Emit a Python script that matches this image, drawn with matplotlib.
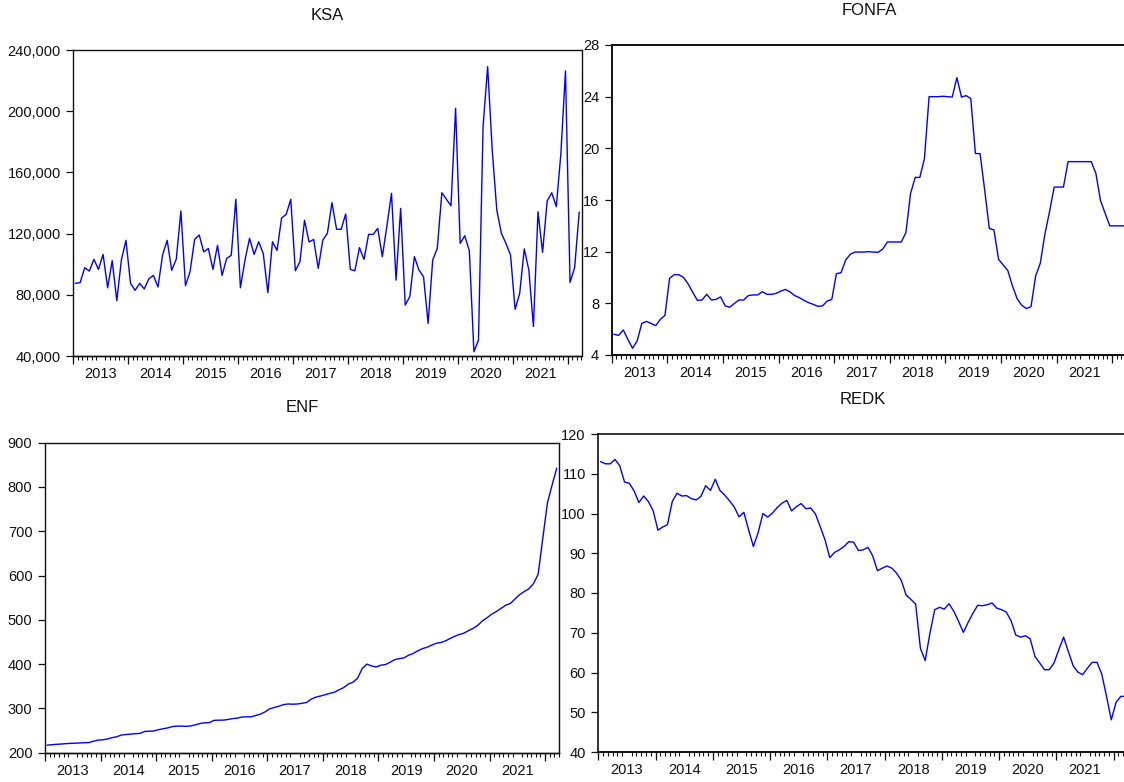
import numpy as np
import matplotlib
matplotlib.use("Agg")
import matplotlib.pyplot as plt
from matplotlib.ticker import FuncFormatter

plt.rcParams['font.family'] = ['Liberation Sans', 'DejaVu Sans']

# Monthly observations, 2013M01 - 2022M03
start_year = 2013
year_labels = [2013, 2014, 2015, 2016, 2017, 2018, 2019, 2020, 2021]

ksa = [87500, 88000, 97700, 95500, 103200, 96600, 106400, 84600, 102300, 76100,
       102700, 115600, 87500, 82900, 87500, 83800, 90500, 92700, 85100, 106000,
       115600, 96000, 103400, 134800, 85900, 95100, 116200, 119100, 108000, 110300,
       96600, 112300, 92700, 103800, 105800, 142400, 84600, 102700, 116900, 106400,
       114700, 106800, 81400, 114700, 109000, 130200, 132600, 142400, 95700, 101600,
       128700, 114500, 116200, 97300, 115800, 120200, 140200, 122800, 122800, 132800,
       96600, 95700, 110800, 103200, 119500, 119500, 123400, 104900, 125000, 146300,
       89600, 136500, 73300, 78800, 104900, 96200, 91800, 61300, 102700, 110300,
       146700, 142400, 138200, 201900, 113600, 118600, 108800, 42800, 50400, 189900,
       229100, 174600, 135400, 120200, 113600, 106000, 70500, 80900, 110000, 96200,
       59300, 134300, 107700, 141300, 146700, 137600, 172500, 226300, 88100, 97700,
       133900]

fonfa = [5.6, 5.52, 5.94, 5.2, 4.52, 5.1, 6.45, 6.6, 6.45, 6.27,
         6.76, 7.07, 9.94, 10.22, 10.22, 10.0, 9.5, 8.85, 8.23, 8.26,
         8.7, 8.26, 8.3, 8.5, 7.8, 7.7, 8.0, 8.26, 8.26, 8.6,
         8.65, 8.65, 8.9, 8.7, 8.7, 8.77, 8.95, 9.08, 8.88, 8.6,
         8.44, 8.23, 8.05, 7.92, 7.77, 7.8, 8.18, 8.3, 10.3, 10.37,
         11.35, 11.8, 11.97, 11.97, 11.97, 12.0, 11.97, 11.95, 12.2, 12.75,
         12.75, 12.75, 12.75, 13.47, 16.5, 17.75, 17.75, 19.2, 24.0, 24.0,
         24.0, 24.03, 24.0, 23.97, 25.47, 23.97, 24.08, 23.85, 19.6, 19.59,
         16.77, 13.8, 13.68, 11.4, 10.97, 10.53, 9.34, 8.36, 7.85, 7.6,
         7.74, 10.12, 11.1, 13.37, 15.1, 17.0, 17.0, 17.0, 18.97, 18.97,
         18.97, 18.97, 18.97, 18.97, 18.06, 15.95, 14.97, 14.0, 14.0, 14.0,
         14.0]

enf = [217, 218, 219, 219.5, 220.5, 221, 221.5, 222, 222.5, 223,
       226, 228.5, 229, 231, 234, 236, 240, 241, 242, 243,
       243.5, 248, 248.5, 249, 252, 254, 256, 259, 260, 260,
       259.5, 260.5, 263, 266, 267.5, 268, 273, 273.5, 273.5, 275,
       277, 278, 280.5, 281, 281, 284, 287, 292, 299, 302,
       305, 308.5, 310, 309.5, 310, 311.5, 313.5, 321, 325.5, 328,
       331, 334, 336.5, 342, 347, 355, 359, 368, 390, 400,
       396, 393.5, 397.5, 399, 404, 410, 412.5, 414, 420, 424,
       430, 435, 438, 443, 447, 449, 452.5, 458, 463, 467,
       470, 476, 481, 488, 498, 505, 513, 519, 526, 533,
       537, 547, 557, 564, 570, 582, 603, 684, 764, 804,
       842]

redk = [113.05, 112.5, 112.5, 113.6, 112.0, 107.9, 107.6, 105.7, 102.75, 104.4,
        103.0, 100.7, 95.8, 96.6, 97.2, 103.0, 105.1, 104.4, 104.5, 103.75,
        103.4, 104.3, 107.0, 105.8, 108.6, 105.8, 104.6, 103.2, 101.6, 99.15,
        100.3, 95.9, 91.7, 95.2, 100.0, 99.1, 100.1, 101.5, 102.6, 103.3,
        100.65, 101.7, 102.5, 101.2, 101.4, 99.9, 96.7, 93.4, 88.9, 90.2,
        90.85, 91.7, 92.9, 92.8, 90.7, 90.85, 91.5, 89.35, 85.6, 86.25,
        86.8, 86.25, 85.0, 83.15, 79.5, 78.4, 77.2, 66.1, 63.0, 69.9,
        75.8, 76.4, 75.95, 77.3, 75.4, 72.85, 70.1, 72.6, 74.9, 76.9,
        76.8, 77.05, 77.5, 76.2, 75.8, 75.2, 73.0, 69.4, 68.9, 69.25,
        68.5, 64.05, 62.4, 60.7, 60.7, 62.4, 65.7, 68.9, 65.3, 61.7,
        60.1, 59.45, 61.1, 62.55, 62.55, 59.6, 54.0, 48.1, 52.5, 54.0,
        54.0]

ksa_ticks = [40000, 80000, 120000, 160000, 200000, 240000]
fonfa_ticks = [4, 8, 12, 16, 20, 24, 28]
enf_ticks = [200, 300, 400, 500, 600, 700, 800, 900]
redk_ticks = [40, 50, 60, 70, 80, 90, 100, 110, 120]

W, H = 1124, 782
fig = plt.figure(figsize=(W / 100, H / 100), dpi=100)
fig.patch.set_facecolor('white')

LINE_BLUE = '#0000ff'
TXT = '#111111'
TICK_FS = 10.5


def add_panel(box, values, title, yticks, fmt, spine_lw):
    left, top, right, bottom = box
    ax = fig.add_axes([left / W, 1 - bottom / H, (right - left) / W, (bottom - top) / H])
    n = len(values)
    x = start_year + (np.arange(n) + 0.5) / 12.0
    ax.plot(x, values, color=LINE_BLUE, lw=1.0)
    ax.set_xlim(start_year, start_year + n / 12.0)
    ax.set_ylim(yticks[0], yticks[-1])

    ax.set_yticks(yticks)
    ax.yaxis.set_major_formatter(FuncFormatter(fmt))
    ax.tick_params(axis='y', direction='out', length=5, width=0.9,
                   labelsize=TICK_FS, pad=4, colors=TXT)

    # year labels centred on each year, monthly minor ticks
    ax.set_xticks([y + 0.5 for y in year_labels])
    ax.set_xticklabels([str(y) for y in year_labels])
    ax.tick_params(axis='x', which='major', length=0, labelsize=TICK_FS, pad=8,
                   colors=TXT)
    ax.set_xticks(start_year + np.arange(0, n + 1) / 12.0, minor=True)
    ax.tick_params(axis='x', which='minor', direction='out', length=3,
                   width=0.8, color=TXT)

    # longer ticks at the year boundaries
    sec = ax.secondary_xaxis('bottom')
    sec.set_xticks(list(range(start_year, year_labels[-1] + 2)))
    sec.tick_params(axis='x', direction='out', length=5.5, width=0.9,
                    labelbottom=False, color=TXT)
    sec.spines['bottom'].set_linewidth(spine_lw)
    sec.spines['bottom'].set_color(TXT)

    for s in ax.spines.values():
        s.set_linewidth(spine_lw)
        s.set_color(TXT)

    ax.annotate(title, xy=(0.5, 1.0), xycoords='axes fraction',
                xytext=(0, 25), textcoords='offset points',
                ha='center', va='center', fontsize=12, color=TXT)
    return ax


add_panel((73.3, 50, 581.5, 356), ksa, 'KSA', ksa_ticks,
          lambda v, p: f'{v:,.0f}', 1.0)
add_panel((611.7, 45, 1126.0, 355), fonfa, 'FONFA', fonfa_ticks,
          lambda v, p: f'{v:.0f}', 1.4)
add_panel((45.0, 442.7, 559.0, 752.7), enf, 'ENF', enf_ticks,
          lambda v, p: f'{v:.0f}', 1.0)
add_panel((598.3, 434, 1128.0, 752), redk, 'REDK', redk_ticks,
          lambda v, p: f'{v:.0f}', 1.2)

fig.savefig('out.png', dpi=100, facecolor='white')
